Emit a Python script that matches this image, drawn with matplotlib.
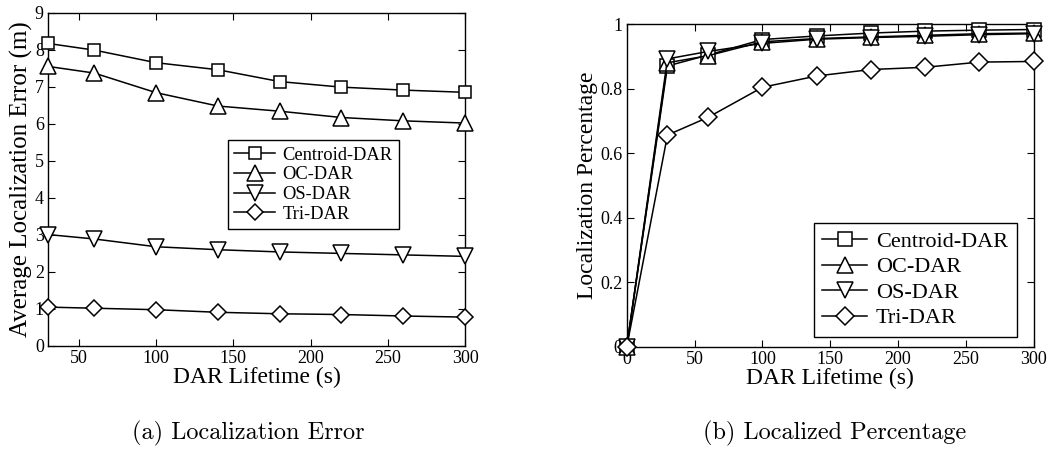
import matplotlib
matplotlib.use('Agg')
import matplotlib.pyplot as plt

# data
life_a = [30, 60, 100, 140, 180, 220, 260, 300]
err_centroid = [8.17, 7.99, 7.65, 7.46, 7.14, 6.99, 6.91, 6.85]
err_oc = [7.55, 7.37, 6.84, 6.48, 6.34, 6.17, 6.08, 6.02]
err_os = [3.01, 2.89, 2.68, 2.60, 2.54, 2.50, 2.46, 2.42]
err_tri = [1.05, 1.02, 0.98, 0.91, 0.87, 0.85, 0.81, 0.78]

life_b = [0, 30, 60, 100, 140, 180, 220, 260, 300]
pct_centroid = [0, 0.870, 0.904, 0.952, 0.963, 0.972, 0.978, 0.981, 0.983]
pct_oc = [0, 0.880, 0.902, 0.945, 0.955, 0.960, 0.965, 0.970, 0.972]
pct_os = [0, 0.892, 0.915, 0.940, 0.953, 0.958, 0.962, 0.967, 0.970]
pct_tri = [0, 0.656, 0.711, 0.804, 0.839, 0.859, 0.866, 0.882, 0.884]

names = ['Centroid-DAR', 'OC-DAR', 'OS-DAR', 'Tri-DAR']
markers = ['s', '^', 'v', 'D']

plt.rcParams['font.family'] = ['Liberation Serif', 'DejaVu Serif']

fig = plt.figure(figsize=(10.57, 4.49), dpi=100)
ax1 = fig.add_axes([0.0454, 0.2294, 0.3946, 0.7423])
ax2 = fig.add_axes([0.593, 0.2278, 0.385, 0.7187])


def draw(ax, x, series, scale):
    sizes = [9, 11, 11, 8.5]
    for ys, name, m, s in zip(series, names, markers, sizes):
        ax.plot(x, ys, color='black', lw=1.1, marker=m, ms=s * scale,
                mfc='white', mec='black', mew=1.1, label=name, clip_on=False,
                zorder=3)
    ax.tick_params(direction='in', top=True, right=True, labelsize=13,
                   length=5, width=0.8, pad=3)
    for sp in ax.spines.values():
        sp.set_linewidth(1.0)


draw(ax1, life_a, [err_centroid, err_oc, err_os, err_tri], 1.0)
ax1.set_xlim(30, 300)
ax1.set_ylim(0, 9)
ax1.set_xticks([50, 100, 150, 200, 250, 300])
ax1.set_yticks(range(0, 10))
ax1.set_xlabel('DAR Lifetime (s)', fontsize=17, labelpad=0)
ax1.set_ylabel('Average Localization Error (m)', fontsize=18, labelpad=1)
ax1.legend(loc='upper left', bbox_to_anchor=(0.2157, 0.688),
           bbox_transform=fig.transFigure, fontsize=13.3, fancybox=False,
           edgecolor='black', framealpha=1, handlelength=2.2,
           borderpad=0.35, labelspacing=0.15, handletextpad=0.4,
           borderaxespad=0).get_frame().set_linewidth(1.0)

draw(ax2, life_b, [pct_centroid, pct_oc, pct_os, pct_tri], 1.1)
ax2.set_xlim(0, 300)
ax2.set_ylim(0, 1)
ax2.set_xticks([0, 50, 100, 150, 200, 250, 300])
ax2.set_yticks([0, 0.2, 0.4, 0.6, 0.8, 1])
ax2.set_yticklabels(['0', '0.2', '0.4', '0.6', '0.8', '1'])
ax2.set_xlabel('DAR Lifetime (s)', fontsize=17, labelpad=0)
ax2.set_ylabel('Localization Percentage', fontsize=17, labelpad=2)
ax2.legend(loc='lower right', bbox_to_anchor=(0.962, 0.249),
           bbox_transform=fig.transFigure, fontsize=16, fancybox=False,
           edgecolor='black', framealpha=1, handlelength=2.0,
           borderpad=0.4, labelspacing=0.22, handletextpad=0.4,
           borderaxespad=0).get_frame().set_linewidth(1.0)

fig.text(248 / 1057, 1 - 433 / 449, '(a) Localization Error',
         ha='center', va='center', fontsize=17.5, family='cmr10')
fig.text(835 / 1057, 1 - 433 / 449, '(b) Localized Percentage',
         ha='center', va='center', fontsize=17.5, family='cmr10')

fig.savefig('out.png', dpi=100)
